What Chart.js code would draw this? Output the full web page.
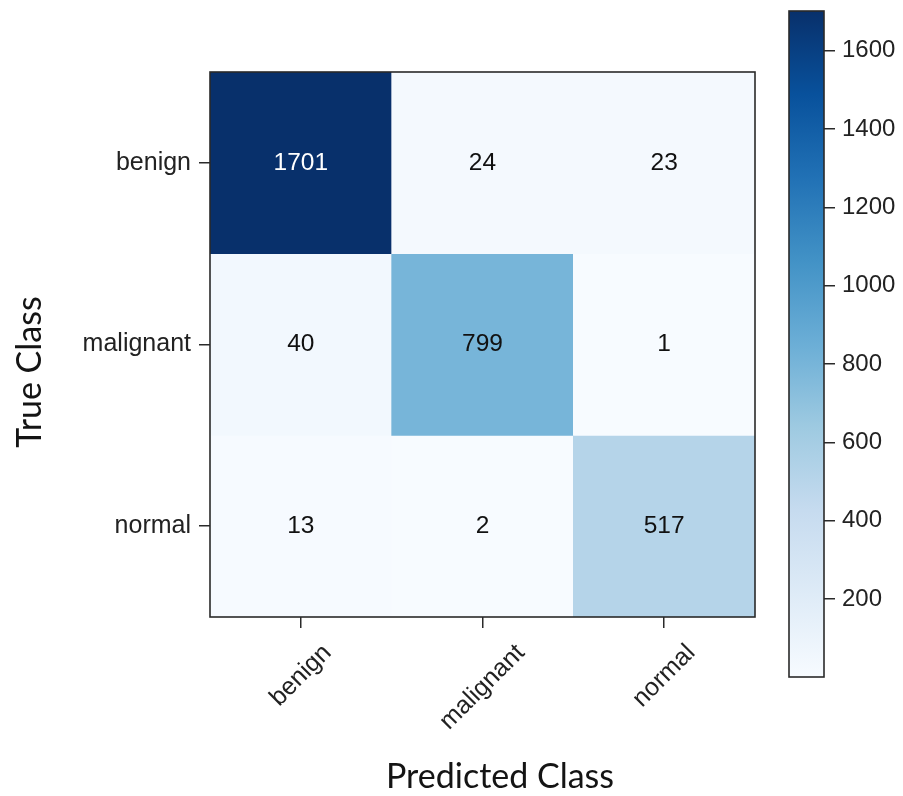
<!DOCTYPE html>
<html>
<head>
<meta charset="utf-8">
<script src="https://cdn.jsdelivr.net/npm/chart.js@4.4.1/dist/chart.umd.min.js"></script>
<style>
  html, body { margin: 0; padding: 0; background: #ffffff; }
  #wrap { position: relative; width: 903px; height: 796px; }
  #main { position: absolute; left: 0; top: 0; }
  #cbar { position: absolute; left: 760px; top: 0; }
</style>
</head>
<body>
<div id="wrap">
  <canvas id="main" width="903" height="796"></canvas>
  <canvas id="cbar" width="143" height="796"></canvas>
</div>
<script>
// ---- data ----
const classes = ['benign', 'malignant', 'normal'];
const rowBenign = [1701, 24, 23];
const rowMalignant = [40, 799, 1];
const rowNormal = [13, 2, 517];
const matrix = [rowBenign, rowMalignant, rowNormal];
const colorbarTicks = [200, 400, 600, 800, 1000, 1200, 1400, 1600];
const xTitle = 'Predicted Class';
const yTitle = 'True Class';

// ---- colormap (matplotlib Blues) ----
const blues = ['#f7fbff', '#deebf7', '#c6dbef', '#9ecae1', '#6baed6', '#4292c6', '#2171b5', '#08519c', '#08306b'];
const allVals = matrix.flat();
const vmin = Math.min(...allVals);
const vmax = Math.max(...allVals);
function hexToRgb(h) { return [parseInt(h.slice(1,3),16), parseInt(h.slice(3,5),16), parseInt(h.slice(5,7),16)]; }
function bluesAt(t) {
  t = Math.max(0, Math.min(1, t));
  const p = t * (blues.length - 1);
  const i = Math.min(Math.floor(p), blues.length - 2);
  const f = p - i;
  const a = hexToRgb(blues[i]), b = hexToRgb(blues[i + 1]);
  const c = a.map((v, k) => Math.round(v + (b[k] - v) * f));
  return 'rgb(' + c.join(',') + ')';
}
const norm = v => (v - vmin) / (vmax - vmin);

const tickFont = { family: '"Liberation Sans", Arial, sans-serif', size: 25 };
const numFont = '24.5px "Liberation Sans", Arial, sans-serif';
const titleFont = '34px Lato, "Open Sans", sans-serif';
const inkColor = '#222222';
const frameColor = '#2a2a2a';

const datasets = matrix.map((row, r) => ({
  label: classes[r],
  counts: row,
  data: row.map(() => [r - 0.5, r + 0.5]),
  backgroundColor: row.map(v => bluesAt(norm(v))),
  borderWidth: 0,
  barPercentage: 1,
  categoryPercentage: 1,
  grouped: false
}));

const cellTextPlugin = {
  id: 'cellText',
  afterDatasetsDraw(chart) {
    const ctx = chart.ctx;
    ctx.save();
    ctx.font = numFont;
    ctx.textAlign = 'center';
    ctx.textBaseline = 'middle';
    chart.data.datasets.forEach((ds, di) => {
      const meta = chart.getDatasetMeta(di);
      meta.data.forEach((el, i) => {
        const v = ds.counts[i];
        ctx.fillStyle = v > vmax / 2 ? '#ffffff' : '#111111';
        ctx.fillText(String(v), el.x, (el.y + el.base) / 2);
      });
    });
    ctx.restore();
  }
};

const framePlugin = {
  id: 'frame',
  afterDatasetsDraw(chart) {
    const a = chart.chartArea, ctx = chart.ctx;
    ctx.save();
    ctx.strokeStyle = frameColor;
    ctx.lineWidth = 1.6;
    ctx.strokeRect(a.left, a.top, a.right - a.left, a.bottom - a.top);
    ctx.restore();
  }
};

const xLabelPlugin = {
  id: 'xLabels',
  afterDraw(chart) {
    const ctx = chart.ctx, xs = chart.scales.x;
    const c = Math.SQRT1_2;
    const top = xs.top + 25;
    ctx.save();
    ctx.font = tickFont.size + 'px ' + tickFont.family;
    ctx.fillStyle = inkColor;
    ctx.textAlign = 'center';
    ctx.textBaseline = 'middle';
    classes.forEach((lab, i) => {
      const w = ctx.measureText(lab).width;
      const px = xs.getPixelForTick(i);
      const cy = top + (w + 20) * c / 2;
      ctx.save();
      ctx.translate(px, cy);
      ctx.rotate(-Math.PI / 4);
      ctx.fillText(lab, 0, 0);
      ctx.restore();
    });
    ctx.restore();
  }
};

const titlePlugin = {
  id: 'titles',
  afterDraw(chart) {
    const ctx = chart.ctx;
    ctx.save();
    ctx.font = titleFont;
    ctx.fillStyle = '#141414';
    ctx.textAlign = 'center';
    ctx.textBaseline = 'alphabetic';
    ctx.fillText(xTitle, 500, 788);
    ctx.translate(41, 372);
    ctx.rotate(-Math.PI / 2);
    ctx.fillText(yTitle, 0, 0);
    ctx.restore();
  }
};

new Chart(document.getElementById('main'), {
  type: 'bar',
  data: { labels: classes, datasets },
  options: {
    responsive: false,
    animation: false,
    layout: { padding: { top: 72, right: 148, left: 0, bottom: 0 } },
    plugins: { legend: { display: false }, tooltip: { enabled: false } },
    scales: {
      x: {
        type: 'category',
        offset: true,
        grid: { display: true, offset: false, drawOnChartArea: false, drawTicks: true, tickLength: 11, color: frameColor, lineWidth: 1.5 },
        border: { display: false },
        ticks: { display: false },
        afterFit: s => { s.height = 179; }
      },
      y: {
        type: 'linear',
        reverse: true,
        min: -0.5,
        max: 2.5,
        afterBuildTicks: s => { s.ticks = classes.map((_, i) => ({ value: i })); },
        grid: { display: true, drawOnChartArea: false, drawTicks: true, tickLength: 11, color: frameColor, lineWidth: 1.5 },
        border: { display: false },
        ticks: { callback: v => classes[v], font: tickFont, color: inkColor, padding: 8 },
        afterFit: s => { s.width = 210; s.paddingTop = 0; s.paddingBottom = 0; }
      }
    }
  },
  plugins: [cellTextPlugin, framePlugin, xLabelPlugin, titlePlugin]
});

// ---- colorbar ----
const cbFramePlugin = {
  id: 'cbFrame',
  afterDatasetsDraw(chart) {
    const a = chart.chartArea, ctx = chart.ctx;
    ctx.save();
    ctx.strokeStyle = frameColor;
    ctx.lineWidth = 1.6;
    ctx.strokeRect(a.left, a.top, a.right - a.left, a.bottom - a.top);
    ctx.restore();
  }
};

new Chart(document.getElementById('cbar'), {
  type: 'bar',
  data: {
    labels: [''],
    datasets: [{
      data: [[vmin, vmax]],
      backgroundColor: (ctx) => {
        const ch = ctx.chart;
        if (!ch.chartArea) return blues[4];
        const ys = ch.scales.y;
        const g = ch.ctx.createLinearGradient(0, ys.getPixelForValue(vmin), 0, ys.getPixelForValue(vmax));
        blues.forEach((col, i) => g.addColorStop(i / (blues.length - 1), col));
        return g;
      },
      borderWidth: 0,
      barPercentage: 1,
      categoryPercentage: 1
    }]
  },
  options: {
    responsive: false,
    animation: false,
    layout: { padding: { top: 11, left: 29, right: 0, bottom: 119 } },
    plugins: { legend: { display: false }, tooltip: { enabled: false } },
    scales: {
      x: { display: false },
      y: {
        position: 'right',
        min: vmin,
        max: vmax,
        afterBuildTicks: s => { s.ticks = colorbarTicks.map(v => ({ value: v })); },
        grid: { display: true, drawOnChartArea: false, drawTicks: true, tickLength: 11, color: frameColor, lineWidth: 1.5 },
        border: { display: false },
        ticks: { callback: v => String(v), font: { family: tickFont.family, size: 24 }, color: inkColor, padding: 7 },
        afterFit: s => { s.width = 79; s.paddingTop = 0; s.paddingBottom = 0; }
      }
    }
  },
  plugins: [cbFramePlugin]
});
</script>
</body>
</html>
